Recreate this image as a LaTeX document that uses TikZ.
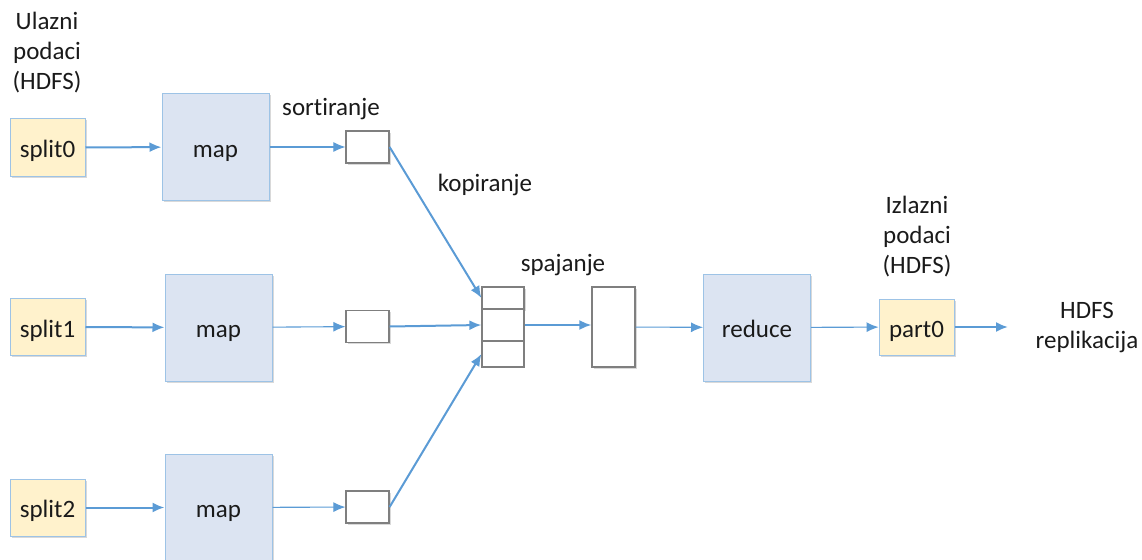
\documentclass[tikz,border=0pt]{standalone}
\usepackage{fontspec}
\setmainfont{Carlito}[Ligatures=NoCommon]
\usetikzlibrary{arrows.meta,shadows}
\definecolor{blueline}{HTML}{5B9BD5}
\definecolor{bordblue}{HTML}{9DC3E6}
\definecolor{mapfill}{HTML}{DCE4F2}
\definecolor{splitfill}{HTML}{FFF2CC}
\definecolor{boxgray}{HTML}{7F7F7F}
\definecolor{txt}{HTML}{1A1A1A}
\begin{document}
\begin{tikzpicture}[x=1pt,y=-1pt,
  every node/.style={font=\fontsize{25}{30}\selectfont, text=txt},
  shd/.style={drop shadow={shadow xshift=1.5pt,shadow yshift=-1.5pt,opacity=0.25,fill=black!60}},
  boxtext/.style={text height=20pt, text depth=0pt},
  splitbox/.style={draw=bordblue, line width=1pt, fill=splitfill, minimum width=75pt, minimum height=57pt, inner sep=0pt, boxtext, shd},
  mapbox/.style={draw=bordblue, line width=1pt, fill=mapfill, minimum width=107pt, minimum height=107pt, inner sep=0pt, boxtext, shd},
  smallbox/.style={draw=boxgray, line width=1.2pt, fill=white, minimum width=43pt, minimum height=32pt, inner sep=0pt, shd},
  cell/.style={draw=boxgray, line width=1.2pt, fill=white, minimum width=42pt, inner sep=0pt},
  thick arr/.style={draw=blueline, line width=2pt, -{Latex[length=12pt,width=10pt]}},
  thin arr/.style={draw=blueline, line width=1.1pt, -{Latex[length=12pt,width=10pt]}},
  lbl/.style={align=center, inner sep=0pt}]
\useasboundingbox (0,0) rectangle (1142,559);
\clip (0,0) rectangle (1142,559);

% inputs
\node[splitbox] (s0) at (47.5,147.5) {split0};
\node[splitbox] (s1) at (47.5,327) {split1};
\node[splitbox] (s2) at (47.5,507.5) {split2};

% maps
\node[mapbox] (m0) at (215.5,147) {map};
\node[mapbox] (m1) at (218.5,327.5) {map};
\node[mapbox] (m2) at (218.5,507.5) {map};

% sort boxes
\node[smallbox] (b0) at (367.5,147) {};
\node[smallbox] (b1) at (367.5,326.5) {};
\node[smallbox] (b2) at (367.5,507) {};

% merge stack
\node[cell, minimum height=22pt, shd] (c0) at (503,298) {};
\node[cell, minimum height=32pt] (c1) at (503,325) {};
\node[cell, minimum height=26pt] (c2) at (503,354) {};

% merged box
\node[smallbox, minimum width=43pt, minimum height=80pt] (mb) at (613.5,327) {};

% reduce and output
\node[mapbox] (r) at (757,327.5) {reduce};
\node[splitbox, minimum height=56pt] (p0) at (916.5,327) {part0};
\coordinate (out) at (1008,327);

% labels
\node[lbl] (lin) at (47,53) {Ulazni\\podaci\\(HDFS)};
\node[lbl] (lsort) at (331,109) {sortiranje};
\node[lbl] (lcopy) at (485,185) {kopiranje};
\node[lbl] (lmerge) at (563,265) {spajanje};
\node[lbl] (lout) at (917,237) {Izlazni\\podaci\\(HDFS)};
\node[lbl] (lrep) at (1087,328) {HDFS\\replikacija};

% connectors
\draw[thick arr] (s0) -- (m0);
\draw[thick arr] (s1) -- (m1);
\draw[thick arr] (s2) -- (m2);
\draw[thin arr] (m0) -- (b0);
\draw[thin arr] (m1) -- (b1);
\draw[thin arr] (m2) -- (b2);
\draw[thick arr] (b0.east) -- (c0.west);
\draw[thick arr] (b1.east) -- (c1.west);
\draw[thick arr] (b2.east) -- (c2.west);
\draw[thick arr] (c1.east) -- (c1.east -| mb.west);
\draw[thin arr] (mb) -- (r);
\draw[thin arr] (r) -- (p0);
\draw[thick arr] (p0) -- (out);
\end{tikzpicture}
\end{document}
